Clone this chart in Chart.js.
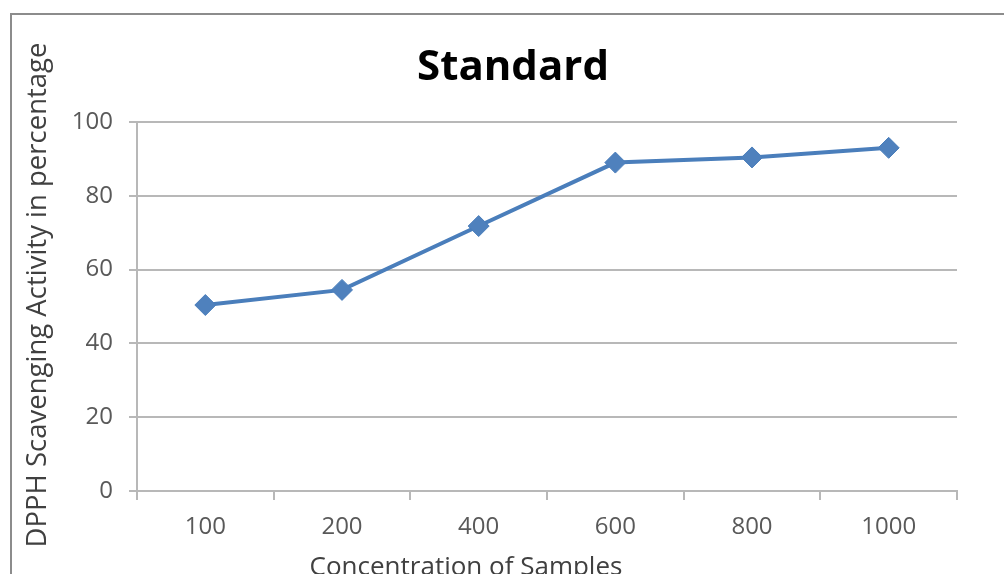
<!DOCTYPE html>
<html>
<head>
<meta charset="utf-8">
<script src="https://cdn.jsdelivr.net/npm/chart.js@4.4.1/dist/chart.umd.min.js"></script>
<style>
  html, body { margin: 0; padding: 0; background: #fff; overflow: hidden; }
  #wrap { position: relative; width: 1004px; height: 574px; overflow: hidden; }
  #frame { position: absolute; left: 10px; top: 13px; width: 1100px; height: 700px;
           border: 2px solid #8c8c8c; box-sizing: border-box; }
  #chart { position: absolute; left: 0; top: 0; }
</style>
</head>
<body>
<div id="wrap">
  <div id="frame"></div>
  <canvas id="chart" width="1004" height="600"></canvas>
</div>
<script>
/* DPPH scavenging, standard — Excel-style line chart */
const FONT = "'Open Sans', 'DejaVu Sans', sans-serif";
const GRID = '#b8b8b8';
const TICK = '#595959';
const BLUE = '#4a7ebb';

const chartTitle = 'Standard';
const xTitle = 'Concentration of Samples';
const yTitle = 'DPPH Scavenging Activity in percentage';

const concentrations = ['100', '200', '400', '600', '800', '1000'];
const scavenging = [50.4, 54.5, 71.8, 89.0, 90.4, 93.0];
const yMin = 0;
const yMax = 100;
const yStep = 20;

// titles drawn by hand so they sit where Excel put them
const titlesPlugin = {
  id: 'titles',
  afterDraw(chart) {
    const ctx = chart.ctx;
    ctx.save();
    ctx.textAlign = 'center';
    ctx.textBaseline = 'middle';

    ctx.fillStyle = '#000';
    ctx.font = 'bold 42px ' + FONT;
    ctx.fillText(chartTitle, 513, 68);

    ctx.fillStyle = '#404040';
    ctx.font = '26px ' + FONT;
    ctx.fillText(xTitle, 466, 568);

    ctx.font = '27.5px ' + FONT;
    ctx.translate(38, 295);
    ctx.rotate(-Math.PI / 2);
    ctx.fillText(yTitle, 0, 0);
    ctx.restore();
  }
};

new Chart(document.getElementById('chart'), {
  type: 'line',
  data: {
    labels: concentrations,
    datasets: [{
      label: chartTitle,
      data: scavenging,
      borderColor: BLUE,
      borderWidth: 4,
      backgroundColor: BLUE,
      pointStyle: 'rectRot',
      pointRadius: 10.5,
      pointBorderColor: BLUE,
      pointBackgroundColor: '#4f81bd',
      pointBorderWidth: 1,
      tension: 0
    }]
  },
  options: {
    responsive: false,
    animation: false,
    layout: { padding: { top: 122, right: 47, left: 0, bottom: 0 } },
    plugins: {
      legend: { display: false },
      title: { display: false },
      tooltip: { enabled: false }
    },
    scales: {
      x: {
        type: 'category',
        offset: true,
        grid: {
          offset: true,
          drawOnChartArea: false,
          drawTicks: true,
          tickLength: 9,
          color: GRID,
          lineWidth: 2
        },
        border: { display: true, color: GRID, width: 2 },
        ticks: { color: TICK, font: { family: FONT, size: 24 }, padding: 13, maxRotation: 0 },
        afterFit(scale) { scale.height = 109; }
      },
      y: {
        min: yMin,
        max: yMax,
        grid: {
          color: GRID,
          lineWidth: 2,
          drawTicks: true,
          tickLength: 8
        },
        border: { display: true, color: GRID, width: 2 },
        ticks: { stepSize: yStep, color: TICK, font: { family: FONT, size: 24 }, padding: 16 },
        afterFit(scale) { scale.width = 137; }
      }
    }
  },
  plugins: [titlesPlugin]
});
</script>
</body>
</html>
